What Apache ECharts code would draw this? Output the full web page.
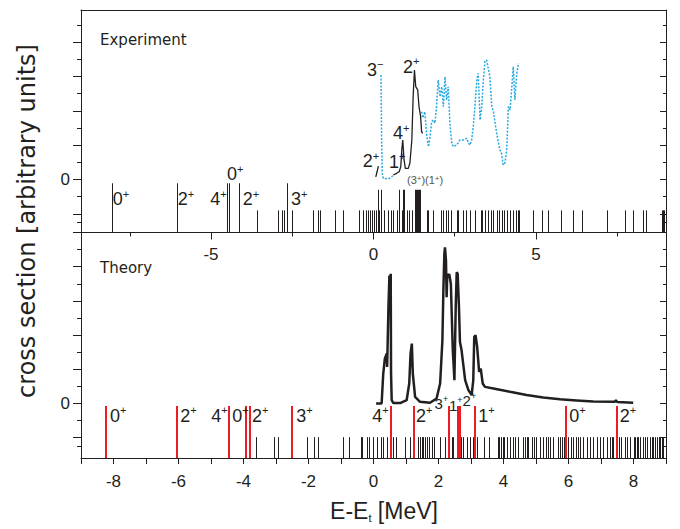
<!DOCTYPE html>
<html><head><meta charset="utf-8">
<script src="https://cdn.jsdelivr.net/npm/echarts@6/dist/echarts.min.js"></script>
<style>html,body{margin:0;padding:0;background:#fff}#c{width:680px;height:529px}</style>
</head><body><div id="c"></div><script>
// ---------------- DATA ----------------
// x ticks
const bottomTickLabels = [-8, -6, -4, -2, 0, 2, 4, 6, 8];
const topTickLabels = [-5, 0, 5];
const yTickLabels = [0];

// Experiment: level positions (MeV)
const expLevelsLabeled = [-8.05, -6.05, -4.51, -4.45, -4.14, -2.67];
const expLevelsNear = [0.13, 0.23, 0.78, 0.90, 0.95, 1.28, 1.31, 1.34, 1.37, 1.40, 1.43];
const expLevelsMinor = [-3.59, -2.95, -2.82, -2.76, -2.51, -1.87, -1.71, -1.65, -1.18, -0.93, -0.44,
  -0.31, -0.23, -0.16, -0.11, -0.05, 0.02, 0.07, 0.18, 0.32, 0.46, 0.54, 0.61, 0.71, 0.87, 1.02, 1.10, 1.17,
  1.64, 1.69, 1.84, 2.08, 2.15, 2.23, 2.30, 2.37, 2.56, 2.61, 2.76, 2.85, 2.97, 3.12, 3.30, 3.35, 3.43, 3.53,
  3.61, 3.69, 3.79, 3.87, 3.94, 4.02, 4.10, 4.20, 4.30, 4.37, 4.44, 4.48, 4.92, 5.17, 5.36, 5.77, 6.15, 6.41,
  7.17, 7.74, 7.99, 8.28, 8.38, 8.87, 8.90, 8.93];
const expLevelTops = { labeled: -0.22, near: -0.6, minor: -1.8 };

// Experiment: measured cross section [E, value]
const expSolidA = [[0.07, 0.15], [0.11, 0.45], [0.15, 0.78]];
const expSolidB = [[0.61, 0.26], [0.71, 0.36], [0.79, 0.45], [0.84, 0.75], [0.87, 1.72], [0.90, 2.30], [0.94, 1.14],
  [0.98, 0.65], [1.07, 0.65], [1.12, 0.96], [1.18, 2.30], [1.22, 4.83], [1.26, 6.38], [1.30, 5.41], [1.36, 5.22],
  [1.40, 4.24], [1.45, 3.66], [1.48, 2.79], [1.51, 2.69]];
const expDottedA = [[0.23, 6.09], [0.25, 2.30], [0.27, 0.36], [0.30, 0.07], [0.40, 0.05], [0.51, 0.07], [0.56, 0.16], [0.61, 0.26]];
const expDottedB = [[1.48, 3.95], [1.52, 3.59], [1.58, 3.95], [1.64, 2.50], [1.69, 1.91], [1.74, 2.50], [1.79, 3.37],
  [1.84, 3.47], [1.89, 3.28], [1.94, 4.25], [1.99, 5.80], [2.05, 4.83], [2.10, 5.41], [2.15, 4.25], [2.20, 5.99],
  [2.25, 4.64], [2.30, 5.41], [2.35, 3.28], [2.41, 2.11], [2.46, 1.91], [2.56, 2.01], [2.66, 2.30], [2.76, 2.30],
  [2.87, 2.40], [2.92, 2.11], [2.97, 2.01], [3.02, 2.30], [3.07, 3.08], [3.12, 4.25], [3.18, 5.80], [3.22, 6.19],
  [3.28, 3.47], [3.33, 4.25], [3.38, 5.80], [3.43, 6.87], [3.48, 6.97], [3.58, 5.99], [3.64, 4.25], [3.69, 3.95],
  [3.79, 2.69], [3.89, 1.72], [3.94, 1.53], [3.99, 0.85], [4.04, 0.95], [4.10, 1.72], [4.15, 4.25], [4.20, 4.05],
  [4.25, 5.22], [4.30, 6.58], [4.35, 4.64], [4.41, 6.19], [4.46, 6.78]];

// Experiment spin labels [E, value, spin, parity]
const expSpinLabels = [[-8.02, -1.14, '0', '+'], [-6.02, -1.14, '2', '+'], [-5.02, -1.14, '4', '+'],
  [-4.51, 0.32, '0', '+'], [-4.02, -1.14, '2', '+'], [-2.54, -1.14, '3', '+'],
  [-0.33, 1.05, '2', '+'], [0.48, 1.02, '1', '+'], [0.60, 2.71, '4', '+'],
  [-0.20, 6.41, '3', '\u2212'], [0.91, 6.56, '2', '+']];
const expTentativeLabel = [[1.03, -0.03, '(3+)(1+)']];

// Theory: levels
const thLevelsRed = [-8.23, -6.06, -4.46, -3.92, -3.79, -2.50, 0.53, 1.25, 2.32, 2.59, 2.66, 3.12, 5.92, 7.48];
const thLevelsBlack = [-3.62, -3.05, -2.95, -2.04, -1.82, -1.70, -0.95, -0.74, -0.38, -0.34, -0.21, -0.14, -0.01, 0.10,
  0.22, 0.30, 0.40, 0.61, 0.69, 0.97, 1.12, 1.38, 1.43, 1.48, 1.53, 1.58, 1.64, 1.72, 1.79, 1.86, 2.05, 2.20, 2.41,
  2.46, 2.69, 2.76, 2.87, 2.97, 3.07, 3.19, 3.40, 3.55, 3.82, 3.87, 3.92, 3.97, 4.03, 4.10, 4.20, 4.28, 4.35, 4.46,
  4.59, 4.66, 4.71, 4.76, 4.87, 4.94, 4.99, 5.12, 5.20, 5.31, 5.38, 5.43, 5.51, 5.69, 5.74, 5.79, 5.86, 5.99, 6.07,
  6.15, 6.23, 6.30, 6.35, 6.46, 6.56, 6.66, 6.76, 6.89, 6.97, 7.07, 7.18, 7.28, 7.33, 7.38, 7.56, 7.63, 7.74, 7.79,
  7.89, 8.00, 8.05, 8.10, 8.15, 8.20, 8.28, 8.35, 8.40, 8.51, 8.56, 8.61, 8.66, 8.71, 8.77, 8.82, 8.87, 8.92];
const thLevelTops = { red: -0.15, black: -1.97 };

// Theory: calculated cross section [E, value]
const thCurve = [[0.08, 0], [0.25, 0], [0.30, 1.75], [0.35, 2.63], [0.41, 2.92], [0.42, 2.14], [0.46, 5.64],
  [0.49, 7.48], [0.51, 7.0], [0.53, 7.58], [0.54, 1.75], [0.56, 0.19], [0.61, 0.02], [0.82, 0.02], [1.02, 0.19],
  [1.10, 1.17], [1.14, 2.92], [1.18, 3.5], [1.21, 1.75], [1.28, 0.39], [1.43, 0.1], [1.74, 0.04], [1.94, 0.29],
  [2.05, 1.17], [2.12, 3.69], [2.15, 6.61], [2.18, 8.75], [2.20, 9.13], [2.23, 8.36], [2.25, 6.22], [2.27, 7.58],
  [2.30, 7.38], [2.33, 7.58], [2.38, 7.0], [2.44, 3.11], [2.49, 1.36], [2.53, 5.64], [2.56, 7.68], [2.59, 7.58],
  [2.63, 5.64], [2.66, 3.59], [2.71, 3.11], [2.82, 1.36], [2.92, 0.78], [3.02, 0.49], [3.07, 1.36], [3.10, 3.89],
  [3.14, 3.99], [3.19, 3.3], [3.25, 1.85], [3.30, 2.04], [3.36, 1.17], [3.43, 0.97], [3.69, 0.88], [4.20, 0.68],
  [4.71, 0.49], [5.22, 0.35], [5.74, 0.24], [6.25, 0.18], [6.76, 0.12], [7.43, 0.1], [7.46, 0.19], [7.50, 0.08],
  [7.99, 0.04]];

// Theory spin labels
const thSpinLabels = [[-8.11, -0.73, '0', '+'], [-5.95, -0.73, '2', '+'], [-4.99, -0.73, '4', '+'],
  [-4.35, -0.73, '0', '+'], [-3.74, -0.73, '2', '+'], [-2.38, -0.73, '3', '+'], [-0.04, -0.73, '4', '+'],
  [1.31, -0.73, '2', '+'], [3.22, -0.73, '1', '+'], [6.02, -0.73, '0', '+'], [7.58, -0.73, '2', '+']];
const thClusterLabels = [[1.88, -0.03, '3', '+'], [2.32, -0.09, '1', '+'], [2.74, 0.17, '2', '+']];

// ---------------- LAYOUT / STYLE ----------------
const X_MIN = -9, X_MAX = 9;
const TOP_MIN = -3.09, TOP_MAX = 9.88;
const BOT_MIN = -3.19, BOT_MAX = 10.0;
const INK = '#231f20', RED = '#ed1c24', CYAN = '#27a9e1';
const SANS = '"Liberation Sans", Arial, Helvetica, sans-serif';
const WIDE = '"DejaVu Sans", sans-serif';

const majorY = [-2, 0, 2, 4, 6, 8, 10];
const minorY = [-2.5, -1, 1, 3, 5, 7, 9];
const intTicks = [];
for (let i = X_MIN; i <= X_MAX; i++) intTicks.push(i);

function yAx(grid, min, max, pos, ticks, len, inside, showLine, labels) {
  return {
    type: 'value', gridIndex: grid, position: pos, min: min, max: max, offset: 0,
    axisLine: { show: showLine, onZero: false, lineStyle: { color: INK, width: 1 } },
    axisTick: { show: true, inside: inside, length: len, customValues: ticks.filter(v => v >= min && v <= max), lineStyle: { color: INK, width: 1 } },
    axisLabel: labels ? { show: true, customValues: labels, margin: 11, fontSize: 17, color: INK, fontFamily: SANS } : { show: false },
    splitLine: { show: false }
  };
}
function xAx(grid, pos, showLine, ticks, len, labels, margin) {
  return {
    type: 'value', gridIndex: grid, position: pos, min: X_MIN, max: X_MAX,
    axisLine: { show: showLine, onZero: false, lineStyle: { color: INK, width: 1 } },
    axisTick: ticks ? { show: true, inside: false, length: len, customValues: ticks, lineStyle: { color: INK, width: 1 } } : { show: false },
    axisLabel: labels ? { show: true, customValues: labels, margin: margin, fontSize: 17, color: INK, fontFamily: SANS } : { show: false },
    splitLine: { show: false }
  };
}

function levelSeries(xs, top, bottom, color, width, xi, yi) {
  return {
    type: 'custom', xAxisIndex: xi, yAxisIndex: yi, silent: true, animation: false,
    data: xs.map(x => [x, top]),
    encode: { x: 0, y: 1 },
    renderItem: function (params, api) {
      const p1 = api.coord([api.value(0), api.value(1)]);
      const p0 = api.coord([api.value(0), bottom]);
      const x = (width % 2 === 1) ? Math.round(p1[0]) + 0.5 : Math.round(p1[0]);
      return { type: 'line', shape: { x1: x, y1: p1[1], x2: x, y2: p0[1] }, style: { stroke: color, lineWidth: width } };
    }
  };
}
function curveSeries(data, color, width, type, xi, yi) {
  return {
    type: 'line', xAxisIndex: xi, yAxisIndex: yi, data: data, symbol: 'none', showSymbol: false,
    silent: true, animation: false, lineStyle: { color: color, width: width, type: type }
  };
}
function spinRich(size) {
  return {
    b: { fontSize: size, fontFamily: SANS, color: INK, lineHeight: size + 4 },
    s: { fontSize: Math.round(size * 0.62), fontFamily: SANS, color: INK, verticalAlign: 'top', lineHeight: 7 }
  };
}
function labelSeries(data, xi, yi, size) {
  return {
    type: 'scatter', xAxisIndex: xi, yAxisIndex: yi, data: data, symbolSize: 0, silent: true, animation: false,
    itemStyle: { color: 'rgba(0,0,0,0)' },
    labelLayout: { hideOverlap: false },
    label: { show: true, opacity: 1, position: 'right', distance: 0,
      formatter: p => '{b|' + p.data[2] + '}{s|' + p.data[3] + '}', rich: spinRich(size) }
  };
}

const chart = echarts.init(document.getElementById('c'), null, { renderer: 'svg', width: 680, height: 529 });
chart.setOption({
  backgroundColor: '#fff',
  animation: false,
  grid: [
    { left: 81, top: 10, width: 585, height: 222.5, outerBoundsMode: 'none' },
    { left: 81, top: 232.5, width: 585, height: 225.5, outerBoundsMode: 'none' }
  ],
  xAxis: [
    xAx(0, 'bottom', true, [-5, 0, 5], 7, topTickLabels, 13),
    xAx(0, 'bottom', false, [-7.5, -2.5, 2.5, 7.5], 4, null, 0),
    xAx(0, 'top', true, null, 0, null, 0),
    xAx(1, 'bottom', true, intTicks, 6, bottomTickLabels, 15)
  ],
  yAxis: [
    yAx(0, TOP_MIN, TOP_MAX, 'left', majorY, 8, false, true, yTickLabels),
    yAx(0, TOP_MIN, TOP_MAX, 'left', minorY, 4, false, false, null),
    yAx(0, TOP_MIN, TOP_MAX, 'right', majorY, 6, true, true, null),
    yAx(0, TOP_MIN, TOP_MAX, 'right', minorY, 3, true, false, null),
    yAx(1, BOT_MIN, BOT_MAX, 'left', majorY, 8, false, true, yTickLabels),
    yAx(1, BOT_MIN, BOT_MAX, 'left', minorY, 4, false, false, null),
    yAx(1, BOT_MIN, BOT_MAX, 'right', majorY, 6, true, true, null),
    yAx(1, BOT_MIN, BOT_MAX, 'right', minorY, 3, true, false, null)
  ],
  graphic: [
    { type: 'text', x: 100, y: 40, silent: true, style: { text: 'Experiment', font: '15px ' + WIDE, fill: INK, align: 'left', verticalAlign: 'middle' } },
    { type: 'text', x: 100, y: 268, silent: true, style: { text: 'Theory', font: '15px ' + WIDE, fill: INK, align: 'left', verticalAlign: 'middle' } },
    { type: 'text', x: 27, y: 221, rotation: Math.PI / 2, silent: true, style: { text: 'cross section [arbitrary units]', font: '24px ' + WIDE, fill: INK, align: 'center', verticalAlign: 'middle' } },
    { type: 'text', x: 384, y: 511, silent: true, style: {
        text: '{a|E-E}{t|t}{a| [MeV]}', align: 'center', verticalAlign: 'middle',
        rich: {
          a: { fontSize: 23, fontFamily: SANS, fill: INK, lineHeight: 24 },
          t: { fontSize: 11, fontFamily: SANS, fill: INK, verticalAlign: 'bottom', lineHeight: 4 }
        } } }
  ],
  series: [
    levelSeries(expLevelsMinor, expLevelTops.minor, TOP_MIN, INK, 1, 0, 0),
    levelSeries(expLevelsLabeled, expLevelTops.labeled, TOP_MIN, INK, 1, 0, 0),
    levelSeries(expLevelsNear, expLevelTops.near, TOP_MIN, INK, 1, 0, 0),
    curveSeries(expDottedA, CYAN, 1.5, [2, 1.5], 0, 0),
    curveSeries(expDottedB, CYAN, 1.5, [2, 1.5], 0, 0),
    curveSeries(expSolidA, INK, 1.3, 'solid', 0, 0),
    curveSeries(expSolidB, INK, 1.3, 'solid', 0, 0),
    labelSeries(expSpinLabels, 0, 0, 18),
    {
      type: 'scatter', xAxisIndex: 0, yAxisIndex: 0, data: expTentativeLabel, symbolSize: 0, silent: true,
      itemStyle: { color: 'rgba(0,0,0,0)' },
      label: { show: true, opacity: 1, position: 'right', distance: 0,
        formatter: () => '{g|(3}{h|+}{g|)(1}{h|+}{g|)}',
        rich: { g: { fontSize: 11, fontFamily: SANS, color: '#555', lineHeight: 12 },
                h: { fontSize: 8, fontFamily: SANS, color: '#555', verticalAlign: 'top', lineHeight: 5 } } }
    },
    levelSeries(thLevelsBlack, thLevelTops.black, BOT_MIN, INK, 1, 3, 4),
    levelSeries(thLevelsRed, thLevelTops.red, BOT_MIN, RED, 2, 3, 4),
    curveSeries(thCurve, INK, 2.5, 'solid', 3, 4),
    labelSeries(thSpinLabels, 3, 4, 18),
    labelSeries(thClusterLabels, 3, 4, 15)
  ]
});
</script></body></html>
